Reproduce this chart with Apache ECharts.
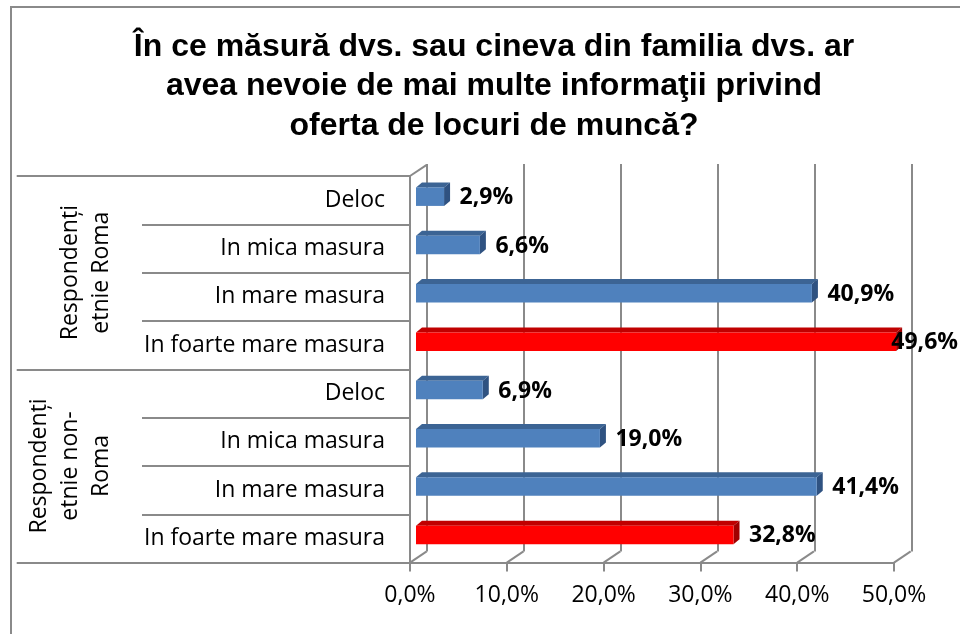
<!DOCTYPE html>
<html>
<head>
<meta charset="utf-8">
<script src="https://cdn.jsdelivr.net/npm/echarts@6/dist/echarts.min.js"></script>
<style>
html, body { margin: 0; padding: 0; overflow: hidden; background: #fff; }
#chart { position: absolute; left: 0; top: 0; width: 960px; height: 634px; }
/* outer chart frame, cut off at right and bottom like the source */
#frame { position: absolute; left: 10px; top: 6px; width: 1000px; height: 700px; border: 2px solid #8a8a8a; pointer-events: none; }
</style>
</head>
<body>
<div id="chart"></div>
<div id="frame"></div>
<script>
const titleLines = [
  'În ce măsură dvs. sau cineva din familia dvs. ar',
  'avea nevoie de mai multe informaţii privind',
  'oferta de locuri de muncă?'
]

const groups = ['Respondenți\netnie Roma', 'Respondenți\netnie non-\nRoma']

const categories = [
  'Deloc', 'In mica masura', 'In mare masura', 'In foarte mare masura',
  'Deloc', 'In mica masura', 'In mare masura', 'In foarte mare masura'
]

const values = [2.9, 6.6, 40.9, 49.6, 6.9, 19.0, 41.4, 32.8]

const xTicks = [0, 10, 20, 30, 40, 50]

// 3d look
const DEPTH_X = 16.7
const DEPTH_Y = -11.2
const BAR_SHIFT_X = 6
const BAR_SHIFT_Y = -3.5
const BAR_DX = 6
const BAR_DY = -5
const GRID_COLOR = '#8a8a8a'
const LABEL_FONT = '"Open Sans", "DejaVu Sans", sans-serif'

const blue = { front: '#4f81bd', top: '#3c6494', side: '#2f5281' }
const red = { front: '#ff0000', top: '#c00000', side: '#a00000' }

function pct(v) {
  return v.toFixed(1).replace('.', ',') + '%'
}

const measureCtx = document.createElement('canvas').getContext('2d')
function textWidth(str, font) {
  measureCtx.font = font
  return measureCtx.measureText(str).width
}

function renderBar(params, api) {
  const idx = api.value(0)
  const val = api.value(1)
  const start = api.coord([0, idx])
  const end = api.coord([val, idx])
  const h = api.size([0, 1])[1] * 0.383
  const x0 = start[0] + BAR_SHIFT_X
  const x1 = end[0] + BAR_SHIFT_X
  const yc = start[1] + BAR_SHIFT_Y
  const top = yc - h / 2
  const bot = yc + h / 2
  const c = categories[idx] === 'In foarte mare masura' ? red : blue

  const labelFont = 'bold 23px ' + LABEL_FONT
  const txt = pct(val)
  const w = textWidth(txt, labelFont)
  let lx = x1 + 15.5
  if (lx + w > api.getWidth() - 2) lx = api.getWidth() - 2 - w

  return {
    type: 'group',
    children: [
      {
        type: 'polygon',
        shape: { points: [[x0, top], [x0 + BAR_DX, top + BAR_DY], [x1 + BAR_DX, top + BAR_DY], [x1, top]] },
        style: { fill: c.top }
      },
      {
        type: 'polygon',
        shape: { points: [[x1, top], [x1 + BAR_DX, top + BAR_DY], [x1 + BAR_DX, bot + BAR_DY], [x1, bot]] },
        style: { fill: c.side }
      },
      {
        type: 'rect',
        shape: { x: x0, y: top, width: x1 - x0, height: h },
        style: { fill: c.front }
      },
      {
        type: 'text',
        x: lx,
        y: yc + 1,
        style: {
          text: txt,
          font: labelFont,
          fill: '#000',
          align: 'left',
          verticalAlign: 'middle'
        }
      }
    ]
  }
}

function renderWall(params, api) {
  const v = api.value(0)
  const f = api.coord([v, 0])
  const lineStyle = { stroke: GRID_COLOR, lineWidth: 2 }
  const children = [{
    type: 'line',
    shape: { x1: f[0], y1: f[1], x2: f[0] + DEPTH_X, y2: f[1] + DEPTH_Y },
    style: lineStyle
  }]
  if (v === xTicks[0]) {
    const t = api.coord([v, 1])
    children.push({
      type: 'line',
      shape: { x1: t[0], y1: t[1], x2: t[0] + DEPTH_X, y2: t[1] + DEPTH_Y },
      style: lineStyle
    })
  }
  return { type: 'group', children: children }
}

const chart = echarts.init(document.getElementById('chart'))

const option = {
  animation: false,
  backgroundColor: '#fff',
  title: {
    text: titleLines.join('\n'),
    left: 489,
    top: 22,
    textAlign: 'center',
    textStyle: {
      fontFamily: '"Liberation Sans", Arial, sans-serif',
      fontWeight: 'bold',
      fontSize: 32,
      lineHeight: 39.5,
      color: '#000'
    }
  },
  grid: [
    { left: 410, right: 66, top: 176, bottom: 71.4, outerBoundsMode: 'none' },
    { left: 426.7, right: 48.3, top: 164, bottom: 82.4, outerBoundsMode: 'none' }
  ],
  xAxis: [
    {
      gridIndex: 0,
      type: 'value',
      min: 0,
      max: 50,
      interval: 10,
      axisLine: { show: true, lineStyle: { color: GRID_COLOR, width: 2 } },
      axisTick: { show: true, length: 9, lineStyle: { color: GRID_COLOR, width: 2 } },
      splitLine: { show: false },
      axisLabel: {
        formatter: pct,
        margin: 21,
        fontFamily: LABEL_FONT,
        fontSize: 23,
        color: '#000'
      }
    },
    {
      gridIndex: 1,
      type: 'value',
      min: 0,
      max: 50,
      interval: 10,
      axisLine: { show: false },
      axisTick: { show: false },
      axisLabel: { show: false },
      splitLine: { show: true, lineStyle: { color: GRID_COLOR, width: 2 } }
    }
  ],
  yAxis: [
    {
      gridIndex: 0,
      type: 'category',
      data: categories,
      inverse: true,
      position: 'left',
      axisLine: { show: true, lineStyle: { color: GRID_COLOR, width: 2 } },
      axisTick: { show: true, length: 268, lineStyle: { color: GRID_COLOR, width: 2 } },
      splitLine: { show: false },
      axisLabel: {
        interval: 0,
        margin: 25,
        fontFamily: LABEL_FONT,
        fontSize: 23,
        color: '#000'
      }
    },
    {
      gridIndex: 0,
      type: 'category',
      data: groups,
      inverse: true,
      position: 'left',
      axisLine: { show: false },
      axisTick: { show: true, length: 393.3, lineStyle: { color: GRID_COLOR, width: 2 } },
      splitLine: { show: false },
      axisLabel: {
        interval: 0,
        rotate: 90,
        margin: 293,
        lineHeight: 31,
        fontFamily: LABEL_FONT,
        fontSize: 23,
        color: '#000'
      }
    },
    { gridIndex: 0, type: 'value', min: 0, max: 1, show: false },
    { gridIndex: 1, type: 'value', min: 0, max: 1, show: false }
  ],
  series: [
    {
      type: 'custom',
      name: 'walls',
      xAxisIndex: 0,
      yAxisIndex: 2,
      z: 1,
      silent: true,
      data: xTicks.map(v => [v]),
      encode: { x: 0 },
      renderItem: renderWall
    },
    {
      type: 'custom',
      name: 'bars',
      xAxisIndex: 0,
      yAxisIndex: 0,
      z: 5,
      data: values.map((v, i) => [i, v]),
      encode: { x: 1, y: 0 },
      renderItem: renderBar
    }
  ]
}

chart.setOption(option)
</script>
</body>
</html>
